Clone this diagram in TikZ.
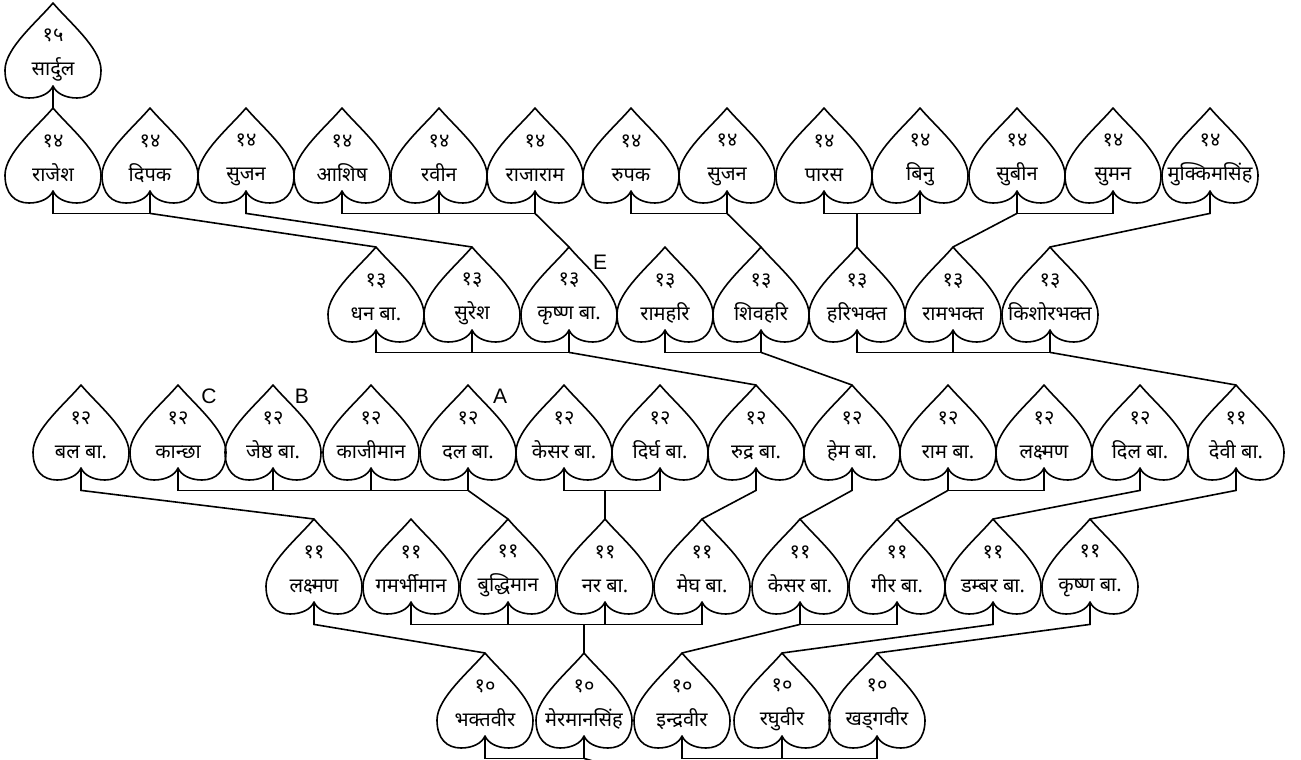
\documentclass[tikz,border=0pt]{standalone}
\usepackage{fontspec}
\newfontfamily\devfont[Script=Devanagari]{Noto Sans}
\newfontfamily\latfont{Liberation Sans}
\usetikzlibrary{positioning, calc}

% outline of one leaf, drawn from its top point (y grows downwards)
\newcommand{\leafpath}{(0,0) .. controls (15,18) and (48,45) .. (48,67)
  .. controls (48,86) and (38,95) .. (24,95)
  .. controls (12,95) and (3,90) .. (0,83)
  .. controls (-3,90) and (-12,95) .. (-24,95)
  .. controls (-38,95) and (-48,86) .. (-48,67)
  .. controls (-48,45) and (-15,18) .. cycle}
% generation number over the name, with fixed line heights
\newcommand{\leaftext}[2]{\vphantom{कि}#1\\[10pt]#2\vphantom{द्धि}}

\begin{document}
\begin{tikzpicture}[
  x=1pt, y=-1pt,
  leaf/.style={
    anchor=north, minimum width=97pt, minimum height=98pt,
    inner sep=0pt, align=center,
    font=\devfont\fontsize{20}{24}\selectfont
  },
  leafline/.style={black, line width=1.6pt, line join=round},
  link/.style={black, line width=1.6pt},
  letter/.style={inner sep=0pt, font=\latfont\fontsize{21}{21}\selectfont}
]
  \useasboundingbox (0,0) rectangle (1301,760);
  \clip (0,0) rectangle (1301,760);

  % generation 15
  \node[leaf] (s15) at (53,3) {\leaftext{१५}{सार्दुल}};

  % generation 14
  \node[leaf] (r14a) at (53,108) {\leaftext{१४}{राजेश}};
  \node[leaf] (r14b) at (150,108) {\leaftext{१४}{दिपक}};
  \node[leaf] (r14c) at (246,108) {\leaftext{१४}{सुजन}};
  \node[leaf] (r14d) at (342,108) {\leaftext{१४}{आशिष}};
  \node[leaf] (r14e) at (439,108) {\leaftext{१४}{रवीन}};
  \node[leaf] (r14f) at (535,108) {\leaftext{१४}{राजाराम}};
  \node[leaf] (r14g) at (631,108) {\leaftext{१४}{रुपक}};
  \node[leaf] (r14h) at (727,108) {\leaftext{१४}{सुजन}};
  \node[leaf] (r14i) at (824,108) {\leaftext{१४}{पारस}};
  \node[leaf] (r14j) at (920,108) {\leaftext{१४}{बिनु}};
  \node[leaf] (r14k) at (1017,108) {\leaftext{१४}{सुबीन}};
  \node[leaf] (r14l) at (1113,108) {\leaftext{१४}{सुमन}};
  \node[leaf] (r14m) at (1210,108) {\leaftext{१४}{मुक्किमसिंह}};

  % generation 13
  \node[leaf] (r13a) at (376,247) {\leaftext{१३}{धन बा.}};
  \node[leaf] (r13b) at (472,247) {\leaftext{१३}{सुरेश}};
  \node[leaf] (r13c) at (569,247) {\leaftext{१३}{कृष्ण बा.}};
  \node[leaf] (r13d) at (665,247) {\leaftext{१३}{रामहरि}};
  \node[leaf] (r13e) at (761,247) {\leaftext{१३}{शिवहरि}};
  \node[leaf] (r13f) at (857,247) {\leaftext{१३}{हरिभक्त}};
  \node[leaf] (r13g) at (953,247) {\leaftext{१३}{रामभक्त}};
  \node[leaf] (r13h) at (1050,247) {\leaftext{१३}{किशोरभक्त}};

  % generation 12
  \node[leaf] (r12a) at (81,385) {\leaftext{१२}{बल बा.}};
  \node[leaf] (r12b) at (178,385) {\leaftext{१२}{कान्छा}};
  \node[leaf] (r12c) at (273,385) {\leaftext{१२}{जेष्ठ बा.}};
  \node[leaf] (r12d) at (371,385) {\leaftext{१२}{काजीमान}};
  \node[leaf] (r12e) at (468,385) {\leaftext{१२}{दल बा.}};
  \node[leaf] (r12f) at (564,385) {\leaftext{१२}{केसर बा.}};
  \node[leaf] (r12g) at (660,385) {\leaftext{१२}{दिर्घ बा.}};
  \node[leaf] (r12h) at (756,385) {\leaftext{१२}{रुद्र बा.}};
  \node[leaf] (r12i) at (852,385) {\leaftext{१२}{हेम बा.}};
  \node[leaf] (r12j) at (948,385) {\leaftext{१२}{राम बा.}};
  \node[leaf] (r12k) at (1044,385) {\leaftext{१२}{लक्ष्मण}};
  \node[leaf] (r12l) at (1140,385) {\leaftext{१२}{दिल बा.}};
  \node[leaf] (r12m) at (1236,385) {\leaftext{११}{देवी बा.}};

  % generation 11
  \node[leaf] (r11a) at (314,519) {\leaftext{११}{लक्ष्मण}};
  \node[leaf] (r11b) at (411,519) {\leaftext{११}{गमर्भीमान}};
  \node[leaf] (r11c) at (508,519) {\leaftext{११}{बुद्धिमान}};
  \node[leaf] (r11d) at (605,519) {\leaftext{११}{नर बा.}};
  \node[leaf] (r11e) at (702,519) {\leaftext{११}{मेघ बा.}};
  \node[leaf] (r11f) at (800,519) {\leaftext{११}{केसर बा.}};
  \node[leaf] (r11g) at (897,519) {\leaftext{११}{गीर बा.}};
  \node[leaf] (r11h) at (993,519) {\leaftext{११}{डम्बर बा.}};
  \node[leaf] (r11i) at (1090,519) {\leaftext{११}{कृष्ण बा.}};

  % generation 10
  \node[leaf] (r10a) at (485,653) {\leaftext{१०}{भक्तवीर}};
  \node[leaf] (r10b) at (584,653) {\leaftext{१०}{मेरमानसिंह}};
  \node[leaf] (r10c) at (682,653) {\leaftext{१०}{इन्द्रवीर}};
  \node[leaf] (r10d) at (782,653) {\leaftext{१०}{रघुवीर}};
  \node[leaf] (r10e) at (877,653) {\leaftext{१०}{खड्गवीर}};

  % outlines, cusp (-c) and bracket level (-f) of every leaf
  \foreach \n in {s15,r14a,r14b,r14c,r14d,r14e,r14f,r14g,r14h,r14i,r14j,r14k,r14l,r14m,
      r13a,r13b,r13c,r13d,r13e,r13f,r13g,r13h,
      r12a,r12b,r12c,r12d,r12e,r12f,r12g,r12h,r12i,r12j,r12k,r12l,r12m,
      r11a,r11b,r11c,r11d,r11e,r11f,r11g,r11h,r11i,
      r10a,r10b,r10c,r10d,r10e} {
    \draw[leafline, shift={(\n.north)}] \leafpath;
    \coordinate (\n-c) at ([yshift=15pt]\n.south);
    \coordinate (\n-f) at ([yshift=-7pt]\n.south);
  }

  % middle stubs of the brackets
  \foreach \n in {r14e,r13b,r13g,r12c,r12d,r11c,r11d,r10d}
    \draw[link] (\n-c) -- (\n-f);

  \draw[link] (s15-c) -- (r14a.north);

  % 14 -> 13
  \draw[link] (r14a-c) -- (r14a-f) -| (r14b-c);
  \draw[link] (r14b-f) -- (r13a.north);
  \draw[link] (r14c-c) -- (r14c-f) -- (r13b.north);
  \draw[link] (r14d-c) -- (r14d-f) -| (r14f-c);
  \draw[link] (r14f-f) -- (r13c.north);
  \draw[link] (r14g-c) -- (r14g-f) -| (r14h-c);
  \draw[link] (r14h-f) -- (r13e.north);
  \draw[link] (r14i-c) -- (r14i-f) -| (r14j-c);
  \draw[link] (r14i-f -| r13f.north) -- (r13f.north);
  \draw[link] (r14k-c) -- (r14k-f) -| (r14l-c);
  \draw[link] (r14k-f) -- (r13g.north);
  \draw[link] (r14m-c) -- (r14m-f) -- (r13h.north);

  % 13 -> 12
  \draw[link] (r13a-c) -- (r13a-f) -| (r13c-c);
  \draw[link] (r13c-f) -- (r12h.north);
  \draw[link] (r13d-c) -- (r13d-f) -| (r13e-c);
  \draw[link] (r13e-f) -- (r12i.north);
  \draw[link] (r13f-c) -- (r13f-f) -| (r13h-c);
  \draw[link] (r13h-f) -- (r12m.north);

  % 12 -> 11
  \draw[link] (r12a-c) -- (r12a-f) -- (r11a.north);
  \draw[link] (r12b-c) -- (r12b-f) -| (r12e-c);
  \draw[link] (r12e-f) -- (r11c.north);
  \draw[link] (r12f-c) -- (r12f-f) -| (r12g-c);
  \draw[link] (r12f-f -| r11d.north) -- (r11d.north);
  \draw[link] (r12h-c) -- (r12h-f) -- (r11e.north);
  \draw[link] (r12i-c) -- (r12i-f) -- (r11f.north);
  \draw[link] (r12j-c) -- (r12j-f) -| (r12k-c);
  \draw[link] (r12j-f) -- (r11g.north);
  \draw[link] (r12l-c) -- (r12l-f) -- (r11h.north);
  \draw[link] (r12m-c) -- (r12m-f) -- (r11i.north);

  % 11 -> 10
  \draw[link] (r11a-c) -- (r11a-f) -- (r10a.north);
  \draw[link] (r11b-c) -- (r11b-f) -| (r11e-c);
  \draw[link] (r11b-f -| r10b.north) -- (r10b.north);
  \draw[link] (r11f-c) -- (r11f-f) -| (r11g-c);
  \draw[link] (r11f-f) -- (r10c.north);
  \draw[link] (r11h-c) -- (r11h-f) -- (r10d.north);
  \draw[link] (r11i-c) -- (r11i-f) -- (r10e.north);

  % 10, cut off at the lower edge
  \coordinate (tail) at (640,775);
  \draw[link] (r10a-c) -- (r10a-f) -| (r10b-c);
  \draw[link] (r10b-f) -- (tail);
  \draw[link] (r10c-c) -- (r10c-f) -| (r10e-c);

  % marks
  \node[letter] (lC) at (209,396) {C};
  \node[letter] (lB) at (302,396) {B};
  \node[letter] (lA) at (500,396) {A};
  \node[letter] (lE) at (600,262) {E};
\end{tikzpicture}
\end{document}
